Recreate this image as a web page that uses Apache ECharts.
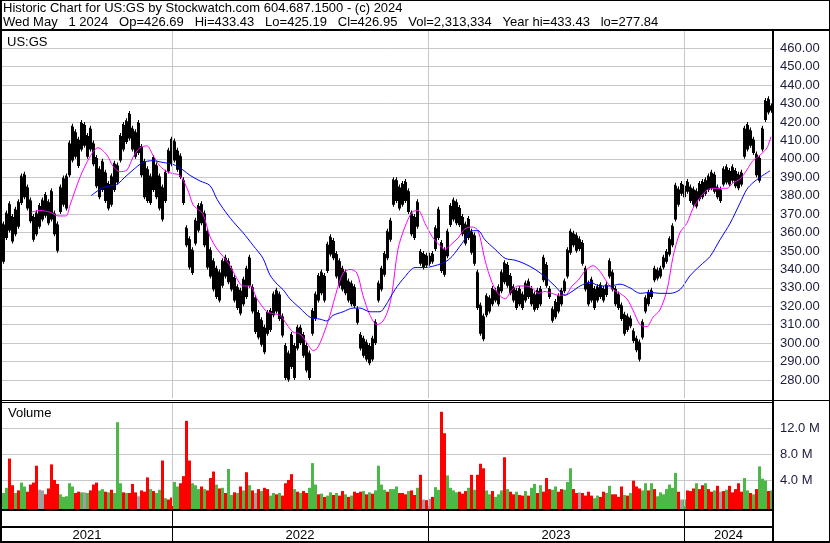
<!DOCTYPE html>
<html>
<head>
<meta charset="utf-8">
<title>US:GS historic chart</title>
<script src="https://cdn.jsdelivr.net/npm/echarts/dist/echarts.min.js"></script>
<style>
  html, body { margin: 0; padding: 0; background: #fff; }
  #chart { width: 830px; height: 543px; }
</style>
</head>
<body>
<div id="chart"></div>
<script>
// one bar = 3 sessions, mid 2021 -> May 1 2024
var barLow = [
  343,356,360,354,358,362,375,378,372,365, 355,358,362,366,368,364,366,358,349,370,
  374,372,390,398,400,395,404,406,400,404, 396,384,378,382,376,372,374,382,386,398,
  404,408,410,404,400,402,390,378,376,375, 382,378,372,366,376,392,396,398,393,389,
  375,352,340,337,353,360,364,352,340,335, 328,324,322,330,335,332,328,322,318,315,
  320,324,330,316,305,302,298,294,304,306, 314,316,312,303,280,279,286,280,296,299,
  292,284,280,304,312,322,326,322,338,347, 345,335,330,328,326,322,320,319,310,296,
  292,290,288,290,299,322,328,336,345,355, 374,376,372,374,376,370,358,356,362,342,
  340,341,342,343,350,356,338,336,346,363, 366,364,363,358,353,356,348,342,318,304,
  301,314,316,320,322,320,327,332,330,326, 322,318,320,318,322,324,320,317,318,320,
  333,330,324,311,313,316,320,327,335,348, 352,349,350,342,328,320,322,318,322,324,
  322,325,335,328,320,318,312,304,306,308, 300,295,290,302,316,320,324,333,334,335,
  340,343,347,352,366,374,380,378,381,376, 374,373,377,378,380,382,383,381,378,376,
  385,386,385,387,384,383,385,400,404,406, 402,390,387,404,420,424,425
];
var barHigh = [
  366,372,377,370,374,378,392,393,386,379, 370,372,376,379,382,378,384,372,366,386,
  391,392,410,419,416,412,421,420,414,418, 410,402,396,400,394,388,392,399,398,414,
  420,422,426,418,416,421,408,400,396,392, 402,398,392,386,394,406,412,411,406,403,
  390,364,358,352,368,376,377,372,362,352, 346,342,340,346,348,346,342,337,332,330,
  336,342,348,332,326,318,314,310,318,319, 328,330,328,316,300,296,306,300,310,310,
  306,300,296,319,328,338,340,338,355,359, 357,350,346,342,340,335,334,332,320,306,
  304,302,300,304,313,334,342,350,362,368, 390,390,386,388,389,384,372,370,378,351,
  350,349,349,350,364,374,356,352,362,376, 379,378,375,370,366,369,362,360,340,322,
  316,327,326,331,330,332,340,345,344,338, 332,330,331,328,334,335,331,328,330,331,
  348,344,331,320,324,327,330,335,352,362, 361,360,358,356,342,334,336,331,332,333,
  331,333,346,340,331,328,322,317,316,315, 308,304,302,313,326,329,330,342,341,342,
  348,351,358,365,387,385,388,387,389,386, 385,384,388,389,390,392,394,393,386,385,
  396,397,395,397,395,393,394,418,420,417, 412,404,402,418,433,434,430
];
// volume in millions
var volume = [
  2.0,2.8,7.3,3.2,2.0,2.4,3.6,3.0,2.2,3.3, 3.6,6.2,2.5,2.4,1.8,2.7,6.4,4.0,3.4,1.8,
  1.4,1.5,3.5,3.0,2.0,2.2,2.1,2.1,2.0,2.4, 3.3,3.6,2.4,2.6,2.2,2.1,2.5,2.0,12.9,3.5,
  2.1,2.0,2.0,3.4,2.1,1.5,2.4,2.2,4.4,2.6, 2.3,2.0,2.5,7.0,1.2,1.0,1.3,3.7,3.0,3.5,
  4.6,13.1,7.0,3.5,3.2,2.6,3.0,2.6,2.4,4.3, 5.3,3.3,2.7,2.8,2.0,5.7,1.7,2.1,2.0,3.0,
  2.4,5.2,3.2,2.4,2.0,2.6,2.3,2.8,2.6,1.6, 2.0,1.8,2.0,1.6,3.5,4.0,4.9,2.6,2.2,2.0,
  2.3,2.0,2.8,6.6,3.3,1.8,1.9,1.4,1.6,2.1, 1.7,2.0,1.6,2.3,1.8,1.4,1.6,2.2,2.0,2.2,
  2.3,1.8,2.1,1.9,2.4,6.2,3.3,2.5,2.2,2.6, 2.6,3.0,2.0,2.0,1.8,2.3,2.4,1.7,2.8,4.8,
  1.0,0.9,1.1,1.4,2.9,2.5,14.5,11.2,4.7,2.8, 2.4,2.1,2.2,1.9,2.3,2.8,4.8,2.5,4.8,6.5,
  5.8,2.4,1.8,2.3,1.4,1.8,2.4,7.5,2.6,2.2, 1.8,2.2,1.7,1.6,2.3,1.6,2.8,3.4,2.0,3.2,
  2.2,4.3,2.6,2.5,3.0,2.2,2.6,2.5,3.7,5.8, 2.6,2.0,2.1,2.0,1.6,2.2,1.6,1.2,1.6,1.4,
  2.2,2.0,3.1,1.8,1.8,1.4,3.0,1.7,1.6,2.0, 3.9,3.0,2.7,2.4,3.5,2.4,3.5,2.6,1.5,2.1,
  1.8,2.6,3.3,2.8,5.1,2.2,1.0,1.0,2.4,2.3, 2.7,3.5,2.6,3.2,3.5,2.6,2.2,2.4,3.1,2.2,
  2.3,2.5,3.1,2.1,2.6,3.5,2.2,4.3,2.4,2.0, 1.8,2.6,6.1,4.2,3.9,2.3,2.4
];
// 1 = up, -1 = down, 0 = unchanged
var volDir = [
  1,1,-1,-1,1,-1,1,1,-1,-1, -1,-1,0,0,-1,-1,-1,-1,-1,1,
  1,1,1,1,-1,-1,1,0,1,-1, -1,-1,1,1,-1,1,-1,1,1,1,
  -1,1,-1,-1,-1,0,-1,-1,-1,1, -1,1,1,-1,1,-1,-1,1,1,-1,
  -1,-1,-1,1,1,1,-1,1,-1,-1, -1,1,-1,1,-1,1,1,-1,1,-1,
  1,-1,1,-1,0,-1,1,-1,-1,1, 1,-1,1,-1,-1,-1,-1,1,-1,1,
  -1,-1,1,1,1,-1,1,-1,1,1, -1,1,-1,-1,1,-1,1,-1,-1,-1,
  1,-1,1,-1,1,1,1,1,-1,1, 1,1,-1,-1,-1,1,-1,-1,1,-1,
  0,-1,0,-1,1,1,-1,-1,1,1, 1,1,-1,-1,-1,1,-1,1,-1,-1,
  -1,1,1,-1,1,1,1,-1,1,-1, -1,1,-1,-1,1,-1,1,1,-1,1,
  -1,-1,-1,1,1,-1,-1,1,1,1, -1,-1,0,-1,-1,-1,-1,1,1,-1,
  -1,1,1,-1,-1,-1,-1,1,-1,1, -1,-1,-1,1,1,-1,1,-1,1,1,
  1,1,1,1,1,-1,0,1,-1,-1, -1,1,-1,-1,1,-1,-1,1,-1,0,
  -1,1,-1,-1,-1,-1,-1,1,1,-1, 1,-1,1,1,1,-1,1
];
// moving averages, [bar, price]
var maFast = [[9.2,371],[12.2,372],[15.5,371],[18.2,369],[20.8,369],[22.2,375],[25.5,390],[28.8,401],[31.5,406],[34.5,402],
  [36.5,396],[38.8,393],[41.2,394],[43.2,401],[45.5,406],[47.8,407],[49.8,402],[52.2,396],[54.5,393],[56.5,392],
  [58.8,391],[61.2,384],[63.2,375],[64.5,373],[66.5,370],[68.8,358],[71.2,351],[73.2,347],[75.5,342],[77.8,335],
  [79.8,331],[82.2,331],[84.5,324],[87.8,317],[89.8,316],[92.2,315],[94.5,310],[96.5,306],[98.8,305],[101.2,300],
  [103.2,296],[104.5,297],[106.5,304],[108.8,315],[111.2,329],[113.2,338],[115.5,340],[117.8,338],[119.8,326],[122.2,315],
  [124.5,310],[126.5,312],[128.2,318],[129.5,327],[131.5,351],[133.8,363],[136.2,371],[138.2,372],[140.5,365],[142.8,358],
  [144.8,354],[147.2,351],[149.5,354],[151.5,357],[153.8,362],[156.2,363],[158.2,361],[160.5,345],[162.8,333],[164.8,327],
  [167.2,324],[169.5,329],[171.5,331],[173.8,331],[176.2,330],[178.2,327],[180.5,328],[182.8,327],[184.8,326],[187.2,326],
  [189.5,331],[191.5,334],[193.8,339],[196.5,342],[198.8,339],[201.2,333],[203.2,329],[205.5,327],[207.8,324],[209.8,318],
  [212.2,310],[214.5,309],[216.5,314],[218.8,318],[221.2,329],[223.2,347],[225.5,360],[227.8,365],[229.8,373],[232.2,379],
  [234.5,383],[236.5,384],[238.8,384],[241.2,384],[243.2,387],[245.5,389],[247.8,394],[249.8,399],[252.2,402],[254.5,406],[255.8,412]];
var maSlow = [[29.2,380],[32.2,383.5],[34.5,385],[37.8,386],[39.8,389],[43.2,394],[46.5,398],[49.8,399],[53.2,398],[56.5,397],
  [59.8,394],[62.2,391],[65.5,388],[68.8,385.5],[71.2,378],[73.2,373],[76.5,366],[79.8,360],[83.2,353],[86.5,346],
  [88.8,337],[91.2,332],[93.2,329],[95.5,324],[98.8,319],[102.2,314],[105.5,313],[107.8,312],[109.8,315],[113.2,317],
  [116.5,319],[118.8,319],[122.2,317],[125.5,317],[127.2,320],[130.5,329],[133.8,336],[137.2,341],[140.5,341],[143.8,342],
  [147.2,344],[149.5,347],[152.8,354],[156.2,361],[158.2,361],[160.5,356],[163.8,351],[167.2,346],[170.5,345],[173.8,343],
  [177.2,340],[180.5,336],[183.8,331],[187.2,326],[189.5,328],[192.2,331],[195.5,333],[198.8,331],[202.2,331],[205.5,332],
  [208.8,330],[212.2,327],[215.5,327.5],[218.8,327],[222.2,327],[225.5,329],[228.8,336.5],[232.2,342],[235.5,347],[238.8,356],
  [242.2,365],[245.5,376],[247.8,383.5],[249.8,387],[252.2,390],[255.5,393.5]];
// first bar of each new year
var yearStarts = [56.17, 141.5, 226.83];
var yearLabels = ['2021', '2022', '2023', '2024'];

var FONT = '"Liberation Sans", Arial, sans-serif';
var GRIDC = '#c8c8c8';
var dirColor = { '1': '#4cb848', '-1': '#ff0000', '0': '#a0a0a0' };

var bars = barLow.map(function (lo, i) { return [i, lo, barHigh[i]]; });
var vols = volume.map(function (v, i) { return [i, v, volDir[i]]; });
var edges = [-0.5].concat(yearStarts, [256.5]);
var yearMid = yearLabels.map(function (t, k) { return [(edges[k] + edges[k + 1]) / 2, 0]; });
var dividers = yearStarts.map(function (x) { return { xAxis: x }; });

// hide first/last split line (they sit under the frame)
function splitColors(n) {
  var c = [];
  for (var k = 0; k < n; k++) c.push(k === 0 || k === n - 1 ? 'rgba(0,0,0,0)' : GRIDC);
  return c;
}

var chart = echarts.init(document.getElementById('chart'));

function hline(x, y, w, h) {
  return { type: 'rect', z: 100, shape: { x: x, y: y, width: w, height: h }, style: { fill: '#000' } };
}
function label(text, x, y) {
  return { type: 'text', z: 100, x: x, y: y, style: { text: text, font: '13px ' + FONT, fill: '#000', verticalAlign: 'middle' } };
}

var option = {
  animation: false,
  textStyle: { fontFamily: FONT },
  grid: [
    { left: 2, right: 57, top: 29.8, height: 368.6 },
    { left: 2, right: 57, top: 402, height: 104 },
    { left: 2, right: 57, top: 511, height: 31 }
  ],
  xAxis: [0, 1, 2].map(function (g) {
    return { type: 'value', gridIndex: g, min: -0.5, max: 256.5, show: false };
  }),
  yAxis: [
    {
      gridIndex: 0, type: 'value', position: 'right', min: 270, max: 470, interval: 10,
      axisLine: { show: false }, axisTick: { show: false },
      axisLabel: {
        margin: 7, color: '#1c1c3c', fontSize: 13, fontFamily: FONT,
        formatter: function (v) { return (v === 270 || v === 470) ? '' : v.toFixed(2); }
      },
      splitLine: { lineStyle: { color: splitColors(21), width: 1 } }
    },
    {
      gridIndex: 1, type: 'value', position: 'right', min: 0, max: 16, interval: 4,
      axisLine: { show: false }, axisTick: { show: false },
      axisLabel: {
        margin: 7, color: '#1c1c3c', fontSize: 13, fontFamily: FONT,
        formatter: function (v) { return (v === 0 || v === 16) ? '' : v.toFixed(1) + ' M'; }
      },
      splitLine: { lineStyle: { color: splitColors(5), width: 1 } }
    },
    { gridIndex: 2, type: 'value', min: 0, max: 1, show: false }
  ],
  series: [
    {
      type: 'custom', xAxisIndex: 0, yAxisIndex: 0, data: bars, z: 3,
      encode: { x: 0, y: [1, 2] },
      renderItem: function (params, api) {
        var top = api.coord([api.value(0), api.value(2)]);
        var bot = api.coord([api.value(0), api.value(1)]);
        var x0 = Math.round(top[0] - 1.5);
        // three daily ticks per bar, middle one spans the full range
        return {
          type: 'group',
          children: [
            { type: 'rect', shape: { x: x0, y: top[1] + 2, width: 1, height: Math.max(1, bot[1] - top[1] - 4) }, style: { fill: '#000' } },
            { type: 'rect', shape: { x: x0 + 1, y: top[1], width: 1, height: Math.max(1, bot[1] - top[1]) }, style: { fill: '#000' } },
            { type: 'rect', shape: { x: x0 + 2, y: top[1] + 3, width: 1, height: Math.max(1, bot[1] - top[1] - 5) }, style: { fill: '#000' } }
          ]
        };
      },
      markLine: {
        silent: true, symbol: 'none', label: { show: false },
        lineStyle: { color: GRIDC, type: 'solid', width: 1 }, data: dividers
      }
    },
    {
      type: 'line', xAxisIndex: 0, yAxisIndex: 0, data: maFast, z: 4,
      showSymbol: false, smooth: 0.3, lineStyle: { color: '#ff00ff', width: 1 }
    },
    {
      type: 'line', xAxisIndex: 0, yAxisIndex: 0, data: maSlow, z: 4,
      showSymbol: false, smooth: 0.3, lineStyle: { color: '#0000ff', width: 1 }
    },
    {
      type: 'custom', xAxisIndex: 1, yAxisIndex: 1, data: vols, z: 3,
      encode: { x: 0, y: 1 },
      renderItem: function (params, api) {
        var p = api.coord([api.value(0), api.value(1)]);
        var base = api.coord([api.value(0), 0]);
        return {
          type: 'rect',
          shape: { x: Math.round(p[0] - 1.5), y: p[1], width: 3, height: base[1] + 3 - p[1] },
          style: { fill: dirColor[String(api.value(2))] }
        };
      },
      markLine: {
        silent: true, symbol: 'none', label: { show: false },
        lineStyle: { color: GRIDC, type: 'solid', width: 1 }, data: dividers
      }
    },
    {
      type: 'custom', xAxisIndex: 2, yAxisIndex: 2, data: yearMid,
      renderItem: function (params, api) {
        var p = api.coord([api.value(0), 0]);
        return {
          type: 'text',
          style: {
            text: yearLabels[params.dataIndex], x: p[0], y: p[1] - 7,
            align: 'center', verticalAlign: 'middle', font: '13px ' + FONT, fill: '#000'
          }
        };
      },
      markLine: {
        silent: true, symbol: 'none', label: { show: false },
        lineStyle: { color: '#000', type: 'solid', width: 1 }, data: dividers
      }
    }
  ],
  graphic: [
    label('Historic Chart for US:GS by Stockwatch.com 604.687.1500 - (c) 2024', 3, 8),
    label('Wed May   1 2024   Op=426.69   Hi=433.43   Lo=425.19   Cl=426.95   Vol=2,313,334   Year hi=433.43   lo=277.84', 3, 22),
    label('US:GS', 7, 42),
    label('Volume', 8, 413),
    hline(0, 0, 830, 1),
    hline(0, 29, 830, 2),
    hline(0, 0, 2, 543),
    hline(829, 0, 1, 543),
    hline(772, 29, 2, 514),
    hline(0, 400, 830, 1),
    hline(0, 402, 773, 1),
    hline(0, 509, 773, 2),
    hline(0, 526, 773, 2),
    hline(0, 541, 830, 2)
  ]
};

chart.setOption(option);
</script>
</body>
</html>
